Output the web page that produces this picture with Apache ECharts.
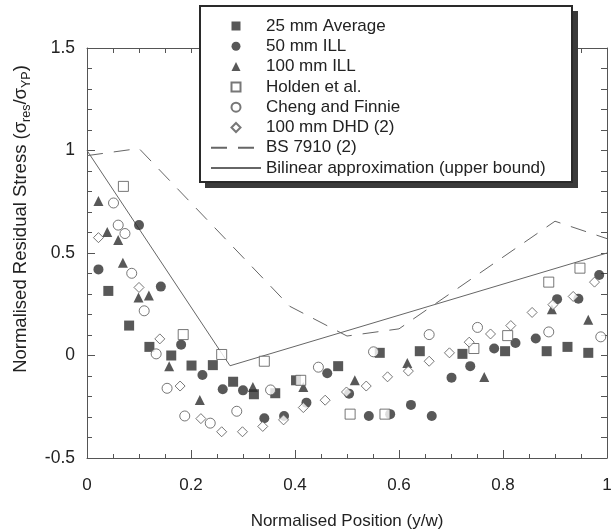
<!DOCTYPE html>
<html>
<head>
<meta charset="utf-8">
<script src="https://cdn.jsdelivr.net/npm/echarts@6/dist/echarts.min.js"></script>
<style>
html,body{margin:0;padding:0;background:#fff;}
#chart{width:613px;height:530px;}
</style>
</head>
<body>
<div id="chart"></div>
<script>
// ---- data ----
const seriesNames = ['25 mm Average','50 mm ILL','100 mm ILL','Holden et al.','Cheng and Finnie','100 mm DHD (2)','BS 7910 (2)','Bilinear approximation (upper bound)'];

const avg25 = [[0.041,0.315],[0.081,0.146],[0.12,0.042],[0.162,0.0],[0.201,-0.049],[0.242,-0.047],[0.281,-0.128],[0.321,-0.189],[0.362,-0.184],[0.402,-0.121],[0.483,-0.052],[0.563,0.013],[0.64,0.021],[0.722,0.008],[0.804,0.021],[0.884,0.021],[0.924,0.042],[0.964,0.013]];
const ill50 = [[0.022,0.42],[0.10,0.636],[0.142,0.336],[0.181,0.053],[0.222,-0.095],[0.261,-0.165],[0.30,-0.17],[0.341,-0.306],[0.379,-0.295],[0.422,-0.23],[0.462,-0.087],[0.504,-0.186],[0.542,-0.295],[0.583,-0.286],[0.623,-0.241],[0.663,-0.295],[0.701,-0.108],[0.737,-0.052],[0.783,0.034],[0.824,0.061],[0.863,0.083],[0.904,0.275],[0.945,0.277],[0.985,0.393]];
const ill100 = [[0.022,0.754],[0.039,0.603],[0.06,0.563],[0.069,0.453],[0.099,0.283],[0.119,0.293],[0.158,-0.052],[0.217,-0.217],[0.319,-0.154],[0.416,-0.154],[0.515,-0.121],[0.616,-0.036],[0.764,-0.105],[0.894,0.226],[0.964,0.175]];
const holden = [[0.07,0.825],[0.185,0.102],[0.259,0.005],[0.341,-0.028],[0.411,-0.121],[0.506,-0.286],[0.573,-0.286],[0.744,0.034],[0.809,0.097],[0.888,0.358],[0.948,0.426]];
const cheng = [[0.051,0.744],[0.06,0.636],[0.073,0.595],[0.086,0.401],[0.11,0.218],[0.133,0.008],[0.154,-0.16],[0.188,-0.295],[0.237,-0.33],[0.288,-0.272],[0.353,-0.168],[0.445,-0.057],[0.551,0.018],[0.658,0.102],[0.751,0.137],[0.888,0.115],[0.988,0.091]];
const dhd100 = [[0.022,0.575],[0.10,0.332],[0.14,0.081],[0.179,-0.149],[0.219,-0.308],[0.259,-0.372],[0.299,-0.372],[0.338,-0.346],[0.378,-0.314],[0.416,-0.254],[0.458,-0.218],[0.499,-0.178],[0.537,-0.149],[0.578,-0.104],[0.618,-0.076],[0.658,-0.028],[0.697,0.013],[0.735,0.065],[0.776,0.105],[0.815,0.146],[0.856,0.21],[0.896,0.248],[0.935,0.288],[0.976,0.358]];
const bs7910 = [[0,0.975],[0.1,1.01],[0.39,0.24],[0.5,0.095],[0.6,0.13],[0.9,0.655],[1.0,0.57]];
const bilinear = [[0,1.0],[0.275,-0.05],[1.0,0.5]];

const xTicks = [0,0.2,0.4,0.6,0.8,1];
const yTicks = [-0.5,0,0.5,1,1.5];

// ---- chart ----
const FONT = '"Liberation Sans", Arial, sans-serif';
const chart = echarts.init(document.getElementById('chart'), null, {renderer:'canvas'});

const dark = '#2e2e2e';
const open = {color:'#ffffff', borderColor:'#555', borderWidth:1};
const sq = 'path://M0,0H10V10H0Z';
const tri = 'path://M5,0L10,10H0Z';
const dia = 'path://M5,0L10,5L5,10L0,5Z';
const hidden = {color:'rgba(0,0,0,0)', borderColor:'rgba(0,0,0,0)', borderWidth:0};

function scatter(name, data, symbol, style, size){
  return {name, type:'scatter', data, symbol, symbolSize:size||10, itemStyle:style, z:3,
          emphasis:{disabled:true}, xAxisIndex:0, yAxisIndex:0};
}

const option = {
  animation:false,
  backgroundColor:'#ffffff',
  textStyle:{fontFamily:FONT},
  grid:{left:87, right:6, top:48, bottom:72, containLabel:false, outerBoundsMode:'none'},
  legend:{
    orient:'vertical', left:200, top:6,
    padding:[10,27,5,10],
    itemWidth:50, itemHeight:9, itemGap:0.3,
    backgroundColor:'rgba(0,0,0,0)', borderWidth:0,
    textStyle:{fontSize:17, color:'#222', fontFamily:FONT, lineHeight:20},
    selectedMode:false, z:10,
    data:[
      {name:seriesNames[0], icon:sq},
      {name:seriesNames[1], icon:'circle'},
      {name:seriesNames[2], icon:tri},
      {name:seriesNames[3], icon:sq},
      {name:seriesNames[4], icon:'circle'},
      {name:seriesNames[5], icon:dia},
      {name:seriesNames[6], itemStyle:hidden},
      {name:seriesNames[7], itemStyle:hidden}
    ]
  },
  xAxis:[{
    type:'value', min:xTicks[0], max:xTicks[xTicks.length-1], interval:0.2, position:'bottom',
    name:'Normalised Position (y/w)', nameLocation:'middle', nameGap:55,
    nameTextStyle:{fontSize:17, color:'#222', fontFamily:FONT},
    axisLine:{show:true, onZero:false, lineStyle:{color:'#555', width:1}},
    axisTick:{show:true, inside:true, length:8, lineStyle:{color:'#555'}},
    minorTick:{show:true, splitNumber:4, length:4, lineStyle:{color:'#555'}},
    axisLabel:{fontSize:17, color:'#222', margin:19, fontFamily:FONT},
    splitLine:{show:false}
  },{
    type:'value', min:0, max:1, interval:0.05, position:'top',
    axisLine:{show:true, onZero:false, lineStyle:{color:'#555', width:1}},
    axisTick:{show:true, inside:true, length:5, lineStyle:{color:'#555'}},
    axisLabel:{show:false}, splitLine:{show:false}
  }],
  yAxis:[{
    type:'value', min:yTicks[0], max:yTicks[yTicks.length-1], interval:0.5, position:'left',
    axisLine:{show:true, onZero:false, lineStyle:{color:'#555', width:1}},
    axisTick:{show:true, inside:true, length:8, lineStyle:{color:'#555'}},
    minorTick:{show:true, splitNumber:5, length:5, lineStyle:{color:'#555'}},
    axisLabel:{fontSize:17.5, color:'#222', margin:12, fontFamily:FONT},
    splitLine:{show:false}
  },{
    type:'value', min:-0.5, max:1.5, interval:0.1, position:'right',
    axisLine:{show:true, onZero:false, lineStyle:{color:'#555', width:1}},
    axisTick:{show:true, inside:true, length:6, lineStyle:{color:'#555'}},
    axisLabel:{show:false}, splitLine:{show:false}
  }],
  graphic:[
    {type:'rect', z:5, shape:{x:205, y:11, width:373, height:177}, style:{fill:'#3a3a3a'}},
    {type:'rect', z:6, shape:{x:200, y:6, width:372, height:176}, style:{fill:'#ffffff', stroke:'#2a2a2a', lineWidth:2}},
    {
    type:'text', x:21, y:219, rotation:Math.PI/2,
    style:{
      text:'{a|Normalised Residual Stress (σ}{s|res}{a|/σ}{s|YP}{a|)}',
      align:'center', verticalAlign:'middle',
      rich:{
        a:{fontSize:18.5, fontFamily:FONT, fill:'#222', lineHeight:25, verticalAlign:'middle'},
        s:{fontSize:12.5, fontFamily:FONT, fill:'#222', lineHeight:25, verticalAlign:'bottom'}
      }
    }
  }],
  series:[
    {name:seriesNames[6], type:'line', data:bs7910, symbol:'none', showSymbol:false, z:2,
     itemStyle:{color:'#666'},
     lineStyle:{color:'#666', width:1, type:[16,11]}, emphasis:{disabled:true}},
    {name:seriesNames[7], type:'line', data:bilinear, symbol:'none', showSymbol:false, z:2,
     itemStyle:{color:'#666'},
     lineStyle:{color:'#666', width:1}, emphasis:{disabled:true}},
    scatter(seriesNames[0], avg25, 'rect', {color:dark}, 10),
    scatter(seriesNames[1], ill50, 'circle', {color:dark}, 10),
    scatter(seriesNames[2], ill100, 'triangle', {color:dark}, 10),
    scatter(seriesNames[3], holden, 'rect', open, 10),
    scatter(seriesNames[4], cheng, 'circle', open, 10),
    scatter(seriesNames[5], dhd100, 'diamond', open, 10)
  ]
};
chart.setOption(option);
</script>
</body>
</html>
